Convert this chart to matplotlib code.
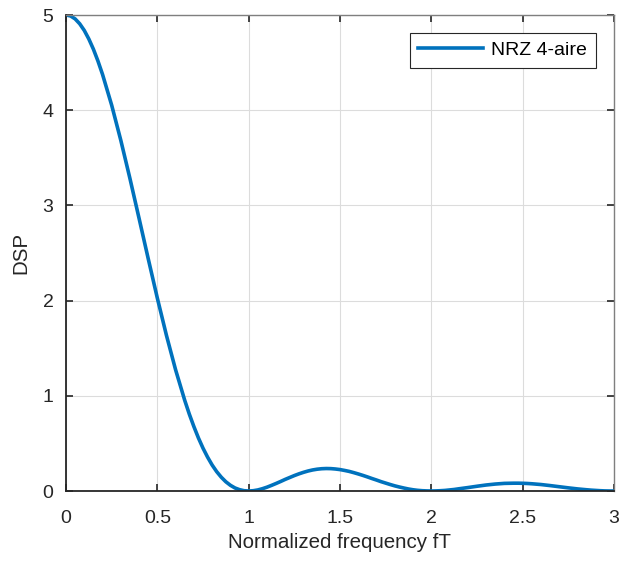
import numpy as np
from matplotlib import pyplot as plt

plt.rcParams['font.family'] = ['Liberation Sans', 'DejaVu Sans']

# normalized frequency and DSP values
f = [0.000, 0.025, 0.050, 0.075, 0.100, 0.125, 0.150, 0.175, 0.200, 0.250,
     0.300, 0.350, 0.400, 0.450, 0.500, 0.550, 0.600, 0.650, 0.675, 0.700,
     0.725, 0.750, 0.775, 0.800, 0.825, 0.850, 0.875, 0.900, 0.925, 0.950,
     0.975, 1.000, 1.025, 1.050, 1.075, 1.100, 1.125, 1.150, 1.175, 1.200,
     1.225, 1.250, 1.275, 1.300, 1.325, 1.350, 1.375, 1.400, 1.425, 1.450,
     1.475, 1.500, 1.525, 1.550, 1.575, 1.600, 1.625, 1.650, 1.675, 1.700,
     1.725, 1.750, 1.775, 1.800, 1.825, 1.850, 1.875, 1.900, 1.925, 1.950,
     1.975, 2.000, 2.025, 2.050, 2.075, 2.100, 2.125, 2.150, 2.200, 2.250,
     2.300, 2.350, 2.400, 2.425, 2.450, 2.475, 2.500, 2.525, 2.550, 2.575,
     2.600, 2.650, 2.700, 2.750, 2.800, 2.850, 2.875, 2.900, 2.925, 2.950,
     2.975, 3.000]
dsp = [5.000, 4.990, 4.959, 4.908, 4.838, 4.748, 4.641, 4.516, 4.376, 4.053,
       3.684, 3.283, 2.864, 2.441, 2.026, 1.634, 1.273, 0.952, 0.808, 0.677,
       0.557, 0.450, 0.356, 0.273, 0.203, 0.145, 0.097, 0.060, 0.032, 0.014,
       0.003, 0.000, 0.003, 0.011, 0.024, 0.040, 0.059, 0.079, 0.100, 0.122,
       0.142, 0.162, 0.180, 0.196, 0.210, 0.221, 0.229, 0.234, 0.236, 0.235,
       0.231, 0.225, 0.216, 0.206, 0.193, 0.179, 0.164, 0.148, 0.131, 0.115,
       0.098, 0.083, 0.068, 0.054, 0.042, 0.031, 0.021, 0.013, 0.007, 0.003,
       0.001, 0.000, 0.001, 0.003, 0.006, 0.011, 0.016, 0.023, 0.036, 0.050,
       0.063, 0.073, 0.080, 0.081, 0.082, 0.082, 0.081, 0.079, 0.076, 0.072,
       0.068, 0.057, 0.045, 0.033, 0.022, 0.013, 0.009, 0.006, 0.003, 0.001,
       0.000, 0.000]

xticks = [0, 0.5, 1, 1.5, 2, 2.5, 3]
xticklabels = ['0', '0.5', '1', '1.5', '2', '2.5', '3']
yticks = [0, 1, 2, 3, 4, 5]

fig = plt.figure(figsize=(6.19, 5.64), dpi=100)
ax = fig.add_axes([66/619, 1-491/564, 548/619, 476/564])

ax.plot(f, dsp, color='#0072BD', lw=2.6, label='NRZ 4-aire')
ax.set_xlim(0, 3)
ax.set_ylim(0, 5)
ax.set_xticks(xticks)
ax.set_xticklabels(xticklabels)
ax.set_yticks(yticks)
ax.grid(True, color='#dcdcdc', lw=0.8)
ax.set_axisbelow(True)

ax.tick_params(direction='in', length=5, width=1.2, labelsize=14, colors='#262626',
               top=True, right=True, pad=9)
ax.tick_params(axis='x', pad=14)
for side in ['left', 'bottom']:
    ax.spines[side].set_color('#262626')
    ax.spines[side].set_linewidth(1.3)
for side in ['top', 'right']:
    ax.spines[side].set_color('#7f7f7f')
    ax.spines[side].set_linewidth(1.0)

ax.set_xlabel('Normalized frequency fT', fontsize=14.8, color='#262626', labelpad=4)
ax.set_ylabel('DSP', fontsize=14.8, color='#262626', labelpad=9)

leg = ax.legend(loc='upper right', fontsize=14, fancybox=False, framealpha=1,
                edgecolor='#262626', handlelength=3.3, handletextpad=0.45,
                borderpad=0.45, borderaxespad=0, bbox_to_anchor=(0.967, 0.963))
leg.get_frame().set_linewidth(0.8)

fig.savefig('out.png', dpi=100)
